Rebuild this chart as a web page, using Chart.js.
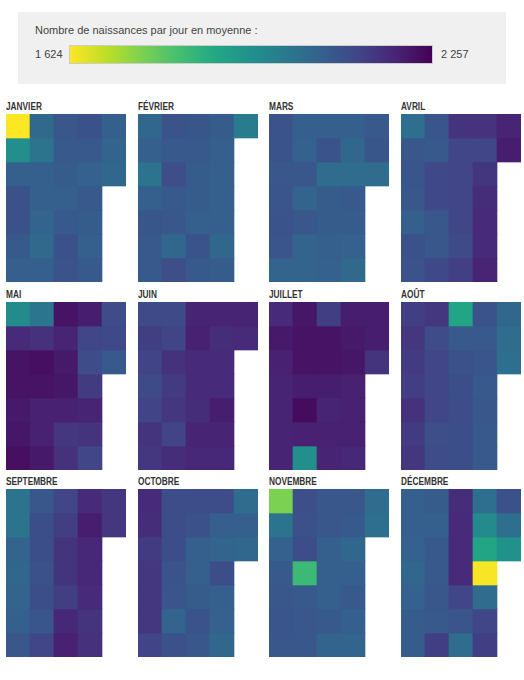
<!DOCTYPE html>
<html lang="fr">
<head>
<meta charset="utf-8">
<script src="https://cdn.jsdelivr.net/npm/chart.js@4.4.1/dist/chart.umd.min.js"></script>
<style>
  body { margin: 0; background: #fff; width: 524px; height: 680px; position: relative; font-family: "Liberation Sans", Arial, sans-serif; }
  #legende { position: absolute; left: 18px; top: 12px; width: 488px; height: 72px; background: #f0f0f0; }
  #legende .titre { position: absolute; left: 17px; top: 12px; font-size: 11px; color: #444; }
  #legende .min, #legende .max { position: absolute; top: 35px; font-size: 11px; color: #444; line-height: 14px; }
  #legende .min { left: 17px; }
  #legende .max { left: 423px; }
  #degrade { position: absolute; left: 51px; top: 33px; width: 362px; height: 17px; border: 1px solid #ccc; }
  .mois { position: absolute; width: 120px; }
  .mois .nom { font-family: "Liberation Sans", Arial, sans-serif; font-weight: bold; font-size: 11.5px; color: #333; height: 14px; line-height: 12px; white-space: nowrap; transform: scaleX(0.72); transform-origin: left center; }
  .mois canvas { display: block; }
</style>
</head>
<body>
<div id="legende">
  <div class="titre">Nombre de naissances par jour en moyenne :</div>
  <div class="min">1 624</div>
  <div id="degrade"></div>
  <div class="max">2 257</div>
</div>
<div id="grille"></div>
<script>
// Nombre moyen de naissances par jour, du 1er au dernier jour de chaque mois
const janvier = [1624, 1945, 2067, 2100, 2100, 2080, 2067, 2042, 2016, 2067, 2067, 2054, 2042, 2067, 2086, 2080, 2073, 2067, 2080, 2100, 2096, 2100, 2080, 2061, 2080, 2073, 2067, 2080, 2067, 2054, 2048];
const fevrier = [2048, 2067, 2016, 2067, 2088, 2080, 2080, 2092, 2080, 2108, 2080, 2086, 2048, 2108, 2088, 2080, 2073, 2073, 2067, 2095, 2080, 2073, 2067, 2067, 2067, 2067, 2048, 2073, 1995];
const mars = [2092, 2092, 2086, 2090, 2092, 2090, 2054, 2067, 2061, 2086, 2054, 2086, 2054, 2054, 2067, 2095, 2035, 2073, 2073, 2067, 2061, 2067, 2048, 2035, 2080, 2073, 2061, 2042, 2080, 2088, 2035];
const avril = [2029, 2086, 2090, 2086, 2067, 2100, 2098, 2090, 2080, 2120, 2120, 2086, 2086, 2120, 2165, 2125, 2125, 2125, 2125, 2115, 2140, 2165, 2125, 2160, 2175, 2181, 2181, 2194, 2194, 2206];
const mai = [1955, 2181, 2225, 2225, 2213, 2219, 2232, 2010, 2168, 2232, 2225, 2200, 2200, 2213, 2225, 2194, 2213, 2219, 2200, 2156, 2168, 2206, 2125, 2112, 2149, 2194, 2162, 2125, 2112, 2120, 2082];
const juin = [2115, 2143, 2128, 2115, 2128, 2162, 2156, 2115, 2128, 2168, 2149, 2156, 2128, 2175, 2194, 2200, 2181, 2181, 2175, 2194, 2187, 2194, 2175, 2181, 2181, 2206, 2194, 2187, 2194, 2181];
const juillet = [2181, 2213, 2200, 2194, 2194, 2194, 2194, 2219, 2225, 2225, 2206, 2238, 2200, 1945, 2143, 2225, 2225, 2206, 2194, 2200, 2194, 2206, 2213, 2219, 2200, 2200, 2200, 2187, 2206, 2206, 2162];
const aout = [2143, 2156, 2149, 2143, 2168, 2149, 2156, 2156, 2112, 2125, 2125, 2125, 2108, 2112, 1885, 2080, 2100, 2106, 2112, 2106, 2106, 2095, 2080, 2090, 2080, 2086, 2080, 2080, 2048, 2035, 2029];
const septembre = [2016, 2016, 2054, 2048, 2054, 2067, 2086, 2086, 2106, 2106, 2100, 2106, 2090, 2125, 2125, 2143, 2162, 2162, 2143, 2187, 2200, 2181, 2206, 2187, 2187, 2181, 2162, 2168, 2156, 2156];
const octobre = [2181, 2175, 2149, 2156, 2156, 2156, 2128, 2110, 2110, 2110, 2095, 2090, 2054, 2100, 2110, 2100, 2067, 2067, 2073, 2095, 2086, 2110, 2067, 2054, 2110, 2067, 2061, 2048, 2035, 2067, 2048];
const novembre = [1750, 2016, 2061, 2080, 2086, 2090, 2086, 2105, 2100, 2110, 1830, 2080, 2086, 2086, 2086, 2086, 2067, 2067, 2067, 2080, 2054, 2086, 2080, 2048, 2067, 2080, 2067, 2054, 2035, 2029];
const decembre = [2067, 2067, 2061, 2048, 2061, 2073, 2073, 2073, 2067, 2080, 2080, 2086, 2080, 2143, 2175, 2181, 2181, 2181, 2125, 2090, 2035, 2029, 1959, 1885, 1631, 2035, 2125, 2143, 2100, 2029, 1940];

const nomsMois = ['JANVIER', 'FÉVRIER', 'MARS', 'AVRIL', 'MAI', 'JUIN', 'JUILLET', 'AOÛT', 'SEPTEMBRE', 'OCTOBRE', 'NOVEMBRE', 'DÉCEMBRE'];
const valeursMois = [janvier, fevrier, mars, avril, mai, juin, juillet, aout, septembre, octobre, novembre, decembre];
const colonnes = ['1', '2', '3', '4', '5'];
const VMIN = 1624;
const VMAX = 2257;

// palette viridis
const viridis = ['#440154', '#482475', '#414487', '#355f8d', '#2a788e', '#21918c', '#22a884', '#44bf70', '#7ad151', '#bddf26', '#fde725'];

function hexToRgb(h) {
    return [parseInt(h.slice(1, 3), 16), parseInt(h.slice(3, 5), 16), parseInt(h.slice(5, 7), 16)];
}

function couleurViridis(t) {
    t = Math.max(0, Math.min(1, t));
    const pos = t * (viridis.length - 1);
    const i = Math.min(Math.floor(pos), viridis.length - 2);
    const f = pos - i;
    const a = hexToRgb(viridis[i]), b = hexToRgb(viridis[i + 1]);
    const c = a.map((v, k) => Math.round(v + (b[k] - v) * f));
    return `rgb(${c[0]}, ${c[1]}, ${c[2]})`;
}

// plus il y a de naissances, plus la case est sombre
function couleur(v) {
    return couleurViridis((VMAX - v) / (VMAX - VMIN));
}

// dégradé de la légende
document.getElementById('degrade').style.background =
    'linear-gradient(to right, ' + viridis.slice().reverse().join(', ') + ')';

const positionsX = [6, 138, 269, 401];
const positionsY = [114, 302, 489];
const grille = document.getElementById('grille');

valeursMois.forEach((jours, m) => {
    const bloc = document.createElement('div');
    bloc.className = 'mois';
    bloc.style.left = positionsX[m % 4] + 'px';
    bloc.style.top = (positionsY[Math.floor(m / 4)] - 14) + 'px';
    bloc.innerHTML = `<div class="nom">${nomsMois[m]}</div><canvas width="120" height="168"></canvas>`;
    grille.appendChild(bloc);

    // une série par ligne, une catégorie par colonne (7 jours par colonne)
    const datasets = [];
    for (let r = 0; r < 7; r++) {
        const data = [], couleurs = [], numeros = [];
        colonnes.forEach((col, c) => {
            const d = c * 7 + r;
            if (d < jours.length) {
                data.push(1);
                couleurs.push(couleur(jours[d]));
                numeros.push(d);
            } else {
                data.push(null);
                couleurs.push('rgba(0,0,0,0)');
                numeros.push(null);
            }
        });
        datasets.push({
            data: data,
            backgroundColor: couleurs,
            hoverBackgroundColor: couleurs,
            borderWidth: 0,
            barPercentage: 1,
            categoryPercentage: 1,
            numeros: numeros
        });
    }

    new Chart(bloc.querySelector('canvas'), {
        type: 'bar',
        data: { labels: colonnes, datasets: datasets },
        options: {
            responsive: false,
            animation: false,
            layout: { padding: 0 },
            plugins: {
                legend: { display: false },
                tooltip: {
                    callbacks: {
                        title: items => {
                            const d = items[0].dataset.numeros[items[0].dataIndex];
                            return (d + 1) + ' ' + nomsMois[m].toLowerCase();
                        },
                        label: item => {
                            const d = item.dataset.numeros[item.dataIndex];
                            return jours[d].toLocaleString('fr-FR') + ' naissances';
                        }
                    }
                }
            },
            scales: {
                x: { display: false, stacked: true },
                y: { display: false, stacked: true, reverse: true, min: 0, max: 7 }
            }
        }
    });
});
</script>
</body>
</html>
